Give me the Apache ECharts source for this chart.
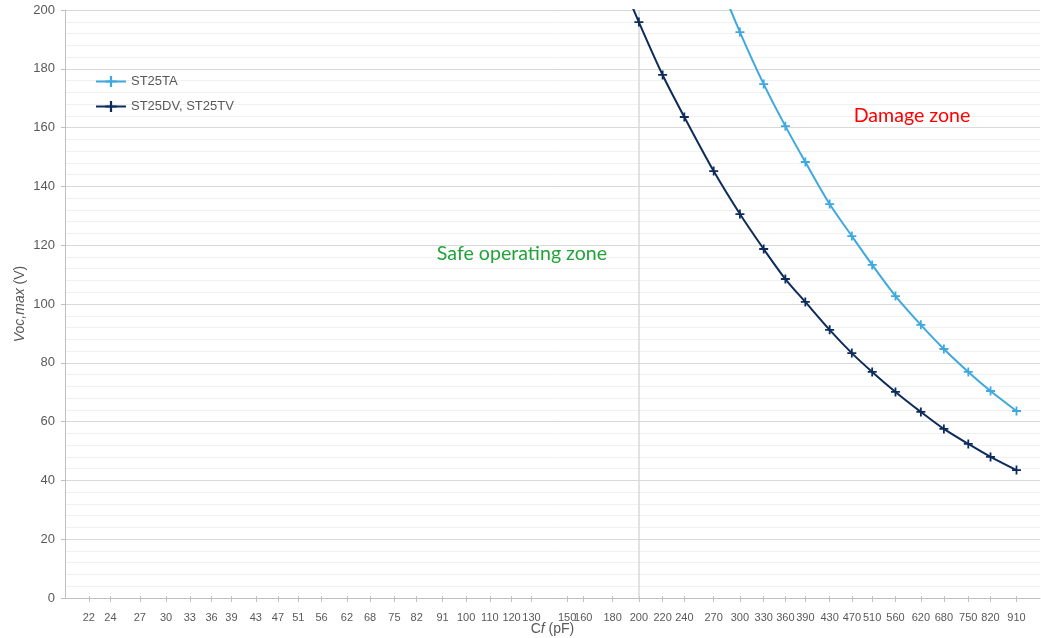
<!DOCTYPE html>
<html>
<head>
<meta charset="utf-8">
<script src="https://cdn.jsdelivr.net/npm/echarts@6/dist/echarts.min.js"></script>
<style>
  html, body { margin: 0; padding: 0; background: #fff; }
  #chart { width: 1041px; height: 638px; }
</style>
</head>
<body>
<div id="chart"></div>
<script>
// Capacitor values (pF) labelled on the horizontal axis (E24 series)
const capTicks = [22, 24, 27, 30, 33, 36, 39, 43, 47, 51, 56, 62, 68, 75, 82, 91,
  100, 110, 120, 130, 150, 160, 180, 200, 220, 240, 270, 300, 330, 360, 390,
  430, 470, 510, 560, 620, 680, 750, 820, 910];

// ST25TA: maximum open-circuit voltage vs. Cf
const capTA = [270, 300, 330, 360, 390, 430, 470, 510, 560, 620, 680, 750, 820, 910];
const voltTA = [214, 192.5, 174.8, 160.5, 148.3, 134.0, 123.1, 113.3, 102.7, 92.9, 84.7, 76.9, 70.4, 63.6];

// ST25DV, ST25TV: maximum open-circuit voltage vs. Cf
const capDV = [180, 200, 220, 240, 270, 300, 330, 360, 390, 430, 470, 510, 560, 620, 680, 750, 820, 910];
const voltDV = [217, 195.9, 177.9, 163.6, 145.2, 130.6, 118.7, 108.5, 100.7, 91.2, 83.3, 76.9, 70.1, 63.3, 57.5, 52.4, 48.0, 43.5];

const seriesNames = ['ST25TA', 'ST25DV, ST25TV'];
const seriesColors = ['#3FA9DF', '#0D2B5B'];
const boundaryCap = 200;

const pair = (xs, ys) => xs.map((x, i) => [x, ys[i]]);
const plusSymbol = 'path://M4,0H6V4H10V6H6V10H4V6H0V4H4Z';
const textColor = '#595959';
const fontFam = '"Liberation Sans", Arial, sans-serif';
const zoneFont = '19.6px Lato, "Open Sans", sans-serif';

const chart = echarts.init(document.getElementById('chart'), null, { renderer: 'canvas' });

const xAxisBase = {
  type: 'log',
  logBase: 10,
  min: 20,
  max: 1000,
  gridIndex: 0,
  position: 'bottom',
  splitLine: { show: false },
  minorTick: { show: false },
  minorSplitLine: { show: false }
};

chart.setOption({
  animation: false,
  backgroundColor: '#ffffff',
  textStyle: { fontFamily: fontFam },
  grid: { left: 65, right: 1, top: 10, bottom: 40, containLabel: false, outerBoundsMode: 'none' },
  legend: {
    orient: 'vertical',
    left: 95,
    top: 75,
    padding: 0,
    itemWidth: 30,
    itemHeight: 14,
    itemGap: 12,
    data: seriesNames,
    textStyle: { color: textColor, fontSize: 13, fontFamily: fontFam }
  },
  xAxis: [
    Object.assign({}, xAxisBase, {
      name: 'C{i|f} (pF)',
      nameLocation: 'middle',
      nameGap: 24,
      nameMoveOverlap: false,
      nameTextStyle: {
        color: textColor, fontSize: 14, fontFamily: fontFam,
        rich: { i: { fontStyle: 'italic', color: textColor, fontSize: 14, fontFamily: fontFam } }
      },
      axisLine: { show: true, lineStyle: { color: '#BFBFBF', width: 1 } },
      axisTick: { show: true, length: 4, customValues: capTicks, lineStyle: { color: '#BFBFBF' } },
      axisLabel: {
        show: true, customValues: capTicks, margin: 14, hideOverlap: false,
        color: textColor, fontSize: 11, fontFamily: fontFam
      }
    }),
    Object.assign({}, xAxisBase, {
      axisLine: { show: false },
      axisTick: { show: true, inside: true, length: 2, customValues: capTicks, lineStyle: { color: '#BFBFBF' } },
      axisLabel: { show: false }
    })
  ],
  yAxis: {
    type: 'value',
    min: 0,
    max: 200,
    interval: 20,
    name: '{i|Voc,max} (V)',
    nameLocation: 'middle',
    nameGap: 38,
    nameMoveOverlap: false,
    nameRotate: 90,
    nameTextStyle: {
      color: textColor, fontSize: 14, fontFamily: fontFam,
      rich: { i: { fontStyle: 'italic', color: textColor, fontSize: 14, fontFamily: fontFam } }
    },
    axisLine: { show: true, lineStyle: { color: '#BFBFBF', width: 1 } },
    axisTick: { show: true, length: 4, lineStyle: { color: '#BFBFBF' } },
    axisLabel: { color: textColor, fontSize: 13, margin: 10, fontFamily: fontFam },
    splitLine: { show: true, lineStyle: { color: '#D9D9D9', width: 1 } },
    minorTick: { show: false, splitNumber: 5 },
    minorSplitLine: { show: true, lineStyle: { color: '#F0F0F0', width: 1 } }
  },
  series: [
    {
      name: seriesNames[0],
      type: 'line',
      xAxisIndex: 0,
      data: pair(capTA, voltTA),
      smooth: 0.3,
      clip: true,
      color: seriesColors[0],
      lineStyle: { width: 2, color: seriesColors[0] },
      symbol: plusSymbol,
      symbolSize: 9,
      itemStyle: { color: seriesColors[0] },
      z: 3
    },
    {
      name: seriesNames[1],
      type: 'line',
      xAxisIndex: 0,
      data: pair(capDV, voltDV),
      smooth: 0.3,
      clip: true,
      color: seriesColors[1],
      lineStyle: { width: 2, color: seriesColors[1] },
      symbol: plusSymbol,
      symbolSize: 9,
      itemStyle: { color: seriesColors[1] },
      z: 4,
      markLine: {
        silent: true,
        symbol: 'none',
        label: { show: false },
        lineStyle: { color: '#D9D9D9', width: 1.5, type: 'solid' },
        data: [{ xAxis: boundaryCap }],
        z: 1
      }
    }
  ],
  graphic: [
    {
      type: 'text',
      x: 522,
      y: 254,
      z: 100,
      style: { text: 'Safe operating zone', fill: '#22A33A', font: zoneFont, align: 'center', verticalAlign: 'middle' }
    },
    {
      type: 'text',
      x: 912,
      y: 116,
      z: 100,
      style: { text: 'Damage zone', fill: '#FF0000', font: zoneFont, align: 'center', verticalAlign: 'middle' }
    }
  ]
});
</script>
</body>
</html>
